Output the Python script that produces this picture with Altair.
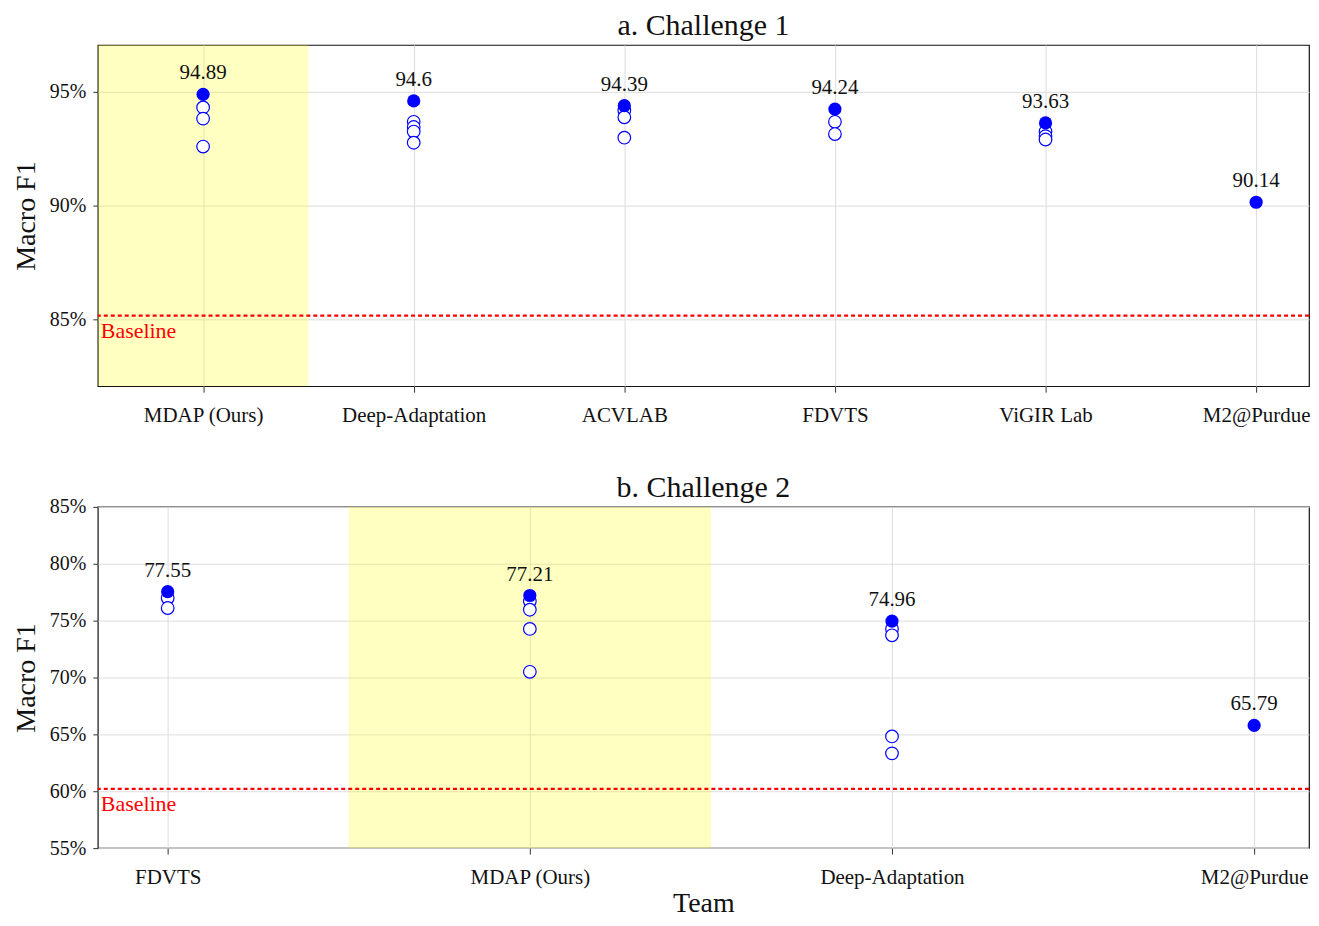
import altair as alt
import pandas as pd

FONT = "Liberation Serif"

# ---- Challenge 1 data ----
teams_a = ["MDAP (Ours)", "Deep-Adaptation", "ACVLAB", "FDVTS", "ViGIR Lab", "M2@Purdue"]
best_a = [94.89, 94.6, 94.39, 94.24, 93.63, 90.14]
runs_a = [
    [94.31, 93.82, 92.59],
    [93.68, 93.45, 93.25, 92.76],
    [94.18, 93.88, 92.98],
    [93.68, 93.14],
    [93.25, 93.05, 92.90],
    [],
]
baseline_a = 85.15
highlight_a = 0

# ---- Challenge 2 data ----
teams_b = ["FDVTS", "MDAP (Ours)", "Deep-Adaptation", "M2@Purdue"]
best_b = [77.55, 77.21, 74.96, 65.79]
runs_b = [
    [76.99, 76.11],
    [76.70, 75.96, 74.27, 70.50],
    [74.27, 73.71, 64.82, 63.33],
    [],
]
baseline_b = 60.2
highlight_b = 1

BLUE = "#0000ff"
W, H = 1214, 342


def panel(teams, best, runs, baseline, hl, title, ydom, yticks, xdom, show_xtitle, toff):
    best_df = pd.DataFrame({"i": list(range(len(teams))), "v": best,
                            "lab": [f"{b:g}" for b in best]})
    rows = []
    for i, rr in enumerate(runs):
        for r in rr:
            rows.append({"i": i, "v": r})
    runs_df = pd.DataFrame(rows)
    names_js = "[" + ",".join("'" + t + "'" for t in teams) + "]"

    x_axis = alt.Axis(
        values=list(range(len(teams))),
        labelExpr=f"{names_js}[datum.value]",
        title="Team" if show_xtitle else None,
        grid=True, gridColor="#dddddd", gridWidth=1,
        tickSize=6, tickColor="#333333", labelPadding=12,
        domain=False, labelFont=FONT, labelFontSize=21, labelColor="#111111",
        titleFont=FONT, titleFontSize=28, titleFontWeight="normal", titleColor="#111111",
        titlePadding=3,
    )
    y_axis = alt.Axis(
        values=yticks,
        labelExpr="datum.value + '%'",
        title="Macro F1",
        grid=True, gridColor="#dddddd", gridWidth=1,
        tickSize=5, tickColor="#333333", labelPadding=7,
        domain=False, labelFont=FONT, labelFontSize=20, labelColor="#111111",
        titleFont=FONT, titleFontSize=28, titleFontWeight="normal", titleColor="#111111",
        titlePadding=9,
    )
    xs = alt.Scale(domain=xdom, nice=False, zero=False)
    ys = alt.Scale(domain=ydom, nice=False, zero=False)

    hl_df = pd.DataFrame({"x1": [hl - 0.5], "x2": [hl + 0.5]})
    band = alt.Chart(hl_df).mark_rect(color="yellow", opacity=0.24, clip=True).encode(
        x=alt.X("x1:Q", scale=xs, axis=x_axis),
        x2="x2:Q",
        y=alt.value(0), y2=alt.value(H),
    )
    base_df = pd.DataFrame({"b": [baseline], "t": ["Baseline"]})
    bline = alt.Chart(base_df).mark_rule(color="#ff0000", strokeWidth=2.2, strokeDash=[4, 3]).encode(
        y=alt.Y("b:Q", scale=ys, axis=y_axis))
    btext = alt.Chart(base_df).mark_text(color="#ff0000", font=FONT, fontSize=22, align="left",
                                         baseline="top", dx=3, dy=5).encode(
        x=alt.value(0), y=alt.Y("b:Q", scale=ys), text="t:N")
    opens = alt.Chart(runs_df).mark_point(shape="circle", filled=True, fill="white", stroke=BLUE,
                                          strokeWidth=1.2, size=160, opacity=1).encode(
        x=alt.X("i:Q", scale=xs), y=alt.Y("v:Q", scale=ys))
    fills = alt.Chart(best_df).mark_point(shape="circle", filled=True, color=BLUE, size=175,
                                          opacity=1).encode(
        x=alt.X("i:Q", scale=xs), y=alt.Y("v:Q", scale=ys))
    labs = alt.Chart(best_df).mark_text(font=FONT, fontSize=21, color="#111111", dy=-21).encode(
        x=alt.X("i:Q", scale=xs), y=alt.Y("v:Q", scale=ys), text="lab:N")

    return alt.layer(band, bline, btext, opens, fills, labs).properties(
        width=W, height=H,
        title=alt.TitleParams(title, font=FONT, fontSize=30, fontWeight="normal",
                              color="#111111", offset=toff),
    )


top = panel(teams_a, best_a, runs_a, baseline_a, highlight_a, "a. Challenge 1",
            [82.05, 97.06], [85, 90, 95], [-0.5, 5.251], False, 4)
bot = panel(teams_b, best_b, runs_b, baseline_b, highlight_b, "b. Challenge 2",
            [55, 85], [55, 60, 65, 70, 75, 80, 85], [-0.193, 3.1515], True, -6)

chart = alt.vconcat(top, bot, spacing=46).configure_view(
    stroke="#111111", strokeWidth=1.2
).properties(padding={"left": 3, "top": 1, "right": 0, "bottom": 0})

chart.save("out.html", embed_options={"renderer": "svg", "actions": False})
